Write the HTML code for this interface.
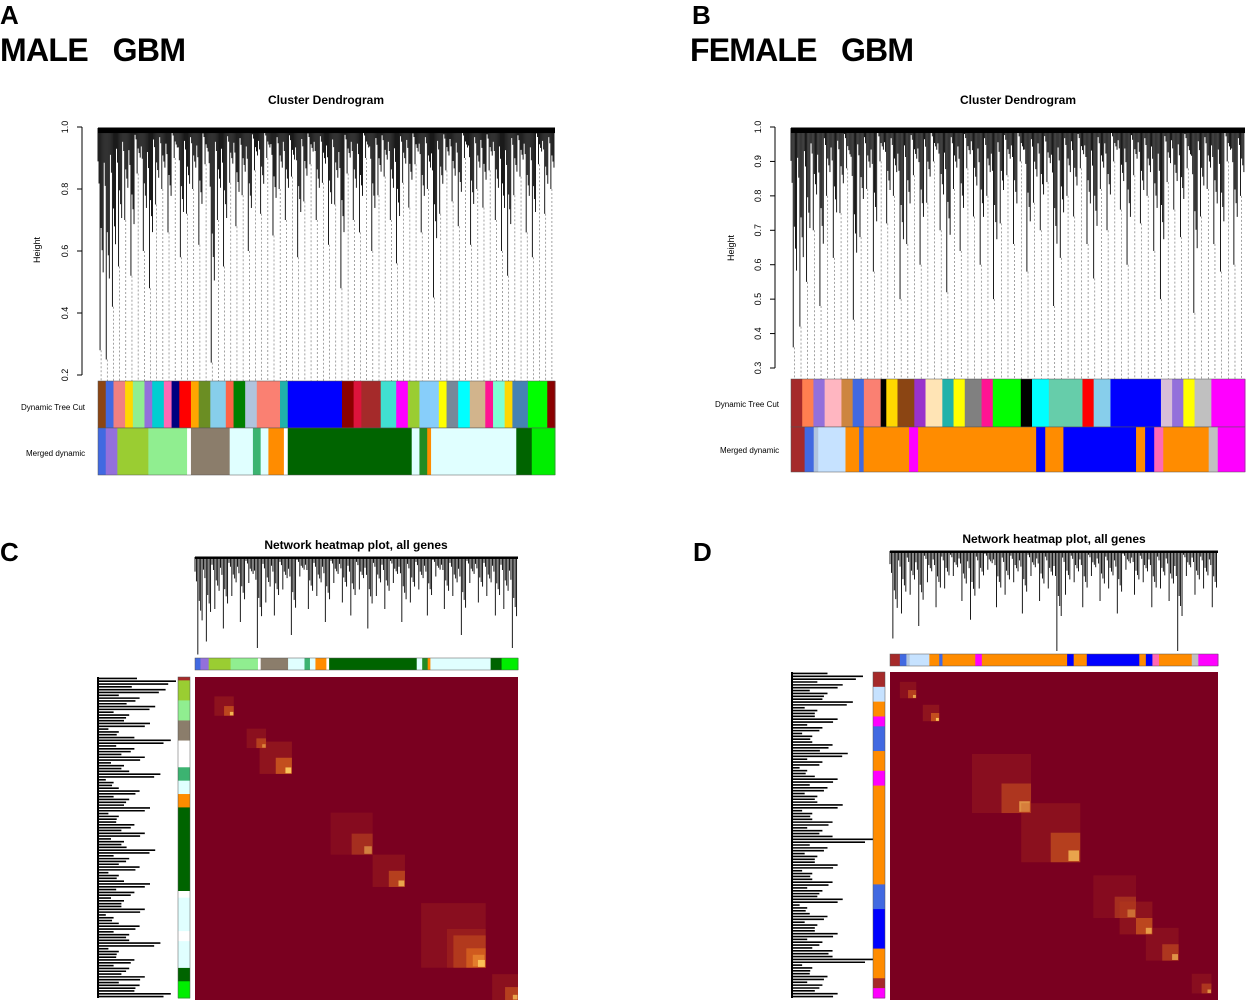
<!DOCTYPE html>
<html><head><meta charset="utf-8"><style>
body{margin:0;background:#fff;width:1246px;height:1007px;overflow:hidden;font-family:"Liberation Sans",sans-serif}
svg{position:absolute;left:0;top:0}
</style></head><body>
<svg id="s" width="1246" height="1007" xmlns="http://www.w3.org/2000/svg">
<g font-family="Liberation Sans, sans-serif" font-weight="bold">
<text x="0" y="24" font-size="26">A</text>
<text x="0" y="61" font-size="32" textLength="186">MALE&#160;&#160;&#160;GBM</text>
<text x="692" y="24" font-size="26">B</text>
<text x="690" y="61" font-size="32" textLength="224">FEMALE&#160;&#160;&#160;GBM</text>
<text x="0" y="561" font-size="26">C</text>
<text x="693" y="561" font-size="26">D</text>
<text x="326" y="104" font-size="12" text-anchor="middle">Cluster Dendrogram</text>
<text x="1018" y="104" font-size="12" text-anchor="middle">Cluster Dendrogram</text>
<text x="356" y="549" font-size="12" text-anchor="middle">Network heatmap plot, all genes</text>
<text x="1054" y="543" font-size="12" text-anchor="middle">Network heatmap plot, all genes</text>
</g>
<g font-size="9" fill="#000">
<text x="21" y="410" font-size="8">Dynamic Tree Cut</text>
<text x="26" y="456" font-size="8">Merged dynamic</text>
<text x="715" y="407" font-size="8">Dynamic Tree Cut</text>
<text x="720" y="453" font-size="8">Merged dynamic</text>
<text transform="translate(40,250) rotate(-90)" text-anchor="middle">Height</text>
<text transform="translate(734,248) rotate(-90)" text-anchor="middle">Height</text>
</g>
<g id="g"></g>
</svg>
<script>
const aLeaves=[0.28,0.25,0.42,0.55,0.7,0.52,0.85,0.6,0.48,0.75,0.8,0.66,0.9,0.58,0.72,0.8,0.62,0.88,0.24,0.7,0.55,0.82,0.68,0.78,0.6,0.86,0.72,0.9,0.65,0.8,0.7,0.84,0.58,0.76,0.88,0.7,0.82,0.62,0.75,0.48,0.85,0.7,0.66,0.9,0.6,0.78,0.84,0.7,0.56,0.82,0.74,0.88,0.66,0.8,0.45,0.72,0.86,0.76,0.68,0.9,0.62,0.8,0.74,0.86,0.7,0.6,0.52,0.78,0.84,0.66,0.58,0.88,0.72,0.8];
const bLeaves=[0.36,0.42,0.55,0.7,0.48,0.8,0.62,0.75,0.88,0.44,0.68,0.82,0.58,0.9,0.72,0.8,0.5,0.66,0.86,0.6,0.78,0.9,0.7,0.52,0.82,0.64,0.88,0.74,0.6,0.8,0.5,0.72,0.86,0.66,0.9,0.58,0.78,0.7,0.84,0.48,0.62,0.8,0.74,0.88,0.66,0.56,0.82,0.7,0.9,0.76,0.6,0.86,0.72,0.8,0.64,0.5,0.84,0.76,0.68,0.88,0.46,0.74,0.82,0.66,0.58,0.9,0.6,0.8];
const cLeaves=[0.25,0.35,0.6,0.45,0.7,0.5,0.8,0.3,0.65,0.55,0.75,0.4,0.85,0.6,0.7,0.5,0.8,0.65,0.55,0.75,0.45,0.7,0.6,0.8,0.5,0.65,0.75,0.55,0.85,0.6,0.7,0.4,0.8,0.65,0.7,0.55,0.6,0.3];
const dLeaves=[0.3,0.5,0.65,0.4,0.75,0.55,0.7,0.8,0.6,0.45,0.7,0.85,0.55,0.65,0.75,0.5,0.8,0.6,0.7,0.2,0.65,0.75,0.55,0.8,0.6,0.7,0.5,0.85,0.65,0.75,0.55,0.7,0.6,0.2,0.8,0.65,0.7,0.55];
const aDyn=[["#8b4513",2],["#4169e1",2],["#f08080",3],["#ffd700",2],["#90ee90",3],["#9370db",2],["#00ced1",3],["#ff69b4",2],["#000080",2],["#ff0000",3],["#ffa500",2],["#6b8e23",3],["#87ceeb",4],["#ff6347",2],["#008000",3],["#b0c4de",3],["#fa8072",6],["#20b2aa",2],["#0000ff",14],["#8b0000",3],["#dc143c",2],["#a52a2a",5],["#40e0d0",4],["#ff00ff",3],["#9acd32",3],["#87cefa",5],["#ffff00",2],["#778899",3],["#00ffff",3],["#d2b48c",4],["#ff1493",2],["#7fffd4",3],["#ffd700",2],["#4682b4",4],["#00ff00",5],["#8b0000",2]];
const aMer=[["#4169e1",2],["#9370db",3],["#9acd32",8],["#90ee90",10],["#ffffff",1],["#8b7d6b",10],["#e0ffff",6],["#3cb371",2],["#e0ffff",2],["#ff8c00",4],["#ffffff",1],["#006400",32],["#e0ffff",2],["#228b22",2],["#ff8c00",1],["#e0ffff",22],["#006400",4],["#00ee00",6]];
const bDyn=[["#a52a2a",2],["#ff7f50",2],["#9370db",2],["#ffb6c1",3],["#cd853f",2],["#4169e1",2],["#fa8072",3],["#000000",1],["#ffd700",2],["#8b4513",3],["#9932cc",2],["#ffe4b5",3],["#20b2aa",2],["#ffff00",2],["#808080",3],["#ff1493",2],["#00ff00",5],["#000000",2],["#00ffff",3],["#66cdaa",6],["#ff0000",2],["#87ceeb",3],["#0000ff",9],["#d8bfd8",2],["#9370db",2],["#ffff00",2],["#c0c0c0",3],["#ff00ff",6]];
const bMer=[["#a52a2a",3],["#4169e1",2],["#b0c4de",1],["#c6e2ff",6],["#ff8c00",3],["#4169e1",1],["#ff8c00",10],["#ff00ff",2],["#ff8c00",26],["#0000ff",2],["#ff8c00",4],["#0000ff",16],["#ff8c00",2],["#0000ff",2],["#ff69b4",2],["#ff8c00",10],["#c0c0c0",2],["#ff00ff",6]];
const cSide=[["#a52a2a",1],["#9acd32",6],["#90ee90",6],["#8b7d6b",6],["#ffffff",8],["#3cb371",4],["#e0ffff",4],["#ff8c00",4],["#006400",25],["#ffffff",2],["#e0ffff",10],["#ffffff",3],["#e0ffff",8],["#006400",4],["#00ee00",5]];
const dSide=[["#a52a2a",3],["#c6e2ff",3],["#ff8c00",3],["#ff00ff",2],["#4169e1",5],["#ff8c00",4],["#ff00ff",3],["#ff8c00",20],["#4169e1",5],["#0000ff",8],["#ff8c00",6],["#a52a2a",2],["#ff00ff",2]];
const cBlocks=[[0.06,0.12,0.8],[0.16,0.22,0.7],[0.2,0.3,0.9],[0.42,0.55,0.5],[0.55,0.65,0.7],[0.7,0.9,0.6],[0.78,0.9,0.8],[0.92,1.0,0.7]];
const dBlocks=[[0.03,0.08,0.7],[0.1,0.15,0.9],[0.25,0.43,0.6],[0.4,0.58,0.7],[0.62,0.75,0.5],[0.7,0.8,0.8],[0.78,0.88,0.6],[0.92,0.98,0.6]];

const NS="http://www.w3.org/2000/svg",G=document.getElementById('g');
function el(t,a,name){const e=document.createElementNS(NS,t);for(const k in a)e.setAttribute(k,a[k]);


G.appendChild(e);return e;}
function yAxis(x,y0,y1,v0,v1,ticks,pre){const sc=v=>y0+(v-v0)/(v1-v0)*(y1-y0);
el('line',{x1:x,x2:x,y1:sc(ticks[0]),y2:sc(ticks[ticks.length-1]),stroke:'#000'},pre+'-y-axis');
ticks.forEach(t=>{el('line',{x1:x-5,x2:x,y1:sc(t),y2:sc(t),stroke:'#000'},pre+'-y-tick');
const tx=el('text',{transform:`translate(${x-14},${sc(t)}) rotate(-90)`,'text-anchor':'middle','font-size':9},pre+'-y-tick-label');tx.textContent=t.toFixed(1);});return sc;}
function dendro(leaves,x0,x1,yTop,sc,yBot,pre,dotted){const n=leaves.length,w=(x1-x0)/n;
el('line',{x1:x0,x2:x1,y1:yTop,y2:yTop,stroke:'#000'},pre+'-root');
leaves.forEach((v,i)=>{const x=x0+w*(i+0.5),y=sc(v);
if(dotted)el('line',{x1:x,x2:x,y1:y,y2:yBot,stroke:'#666','stroke-dasharray':'2,2','stroke-width':0.6},pre+'-leaf-guide');
for(let k=0;k<6;k++){const xx=x0+w*i+w*k/6,yy=yTop+(y-yTop)*(k==2?1:0.15+0.1*k);
el('line',{x1:xx,x2:xx,y1:yTop,y2:yy,stroke:'#000','stroke-width':0.9},pre+'-branch');}});
el('rect',{x:x0,y:yTop,width:x1-x0,height:(yBot-yTop)*0.02,fill:'#000'},pre+'-dense-top');}
function bar(segs,x,y,w,h,vert,pre){const tot=segs.reduce((a,s)=>a+s[1],0);let p=0;
segs.forEach(s=>{const f=s[1]/tot;
if(vert)el('rect',{x,y:y+p*h,width:w,height:f*h+0.5,fill:s[0]},pre+'-segment');
else el('rect',{x:x+p*w,y,width:f*w+0.5,height:h,fill:s[0]},pre+'-segment');p+=f;});
el('rect',{x,y,width:w,height:h,fill:'none',stroke:'#555','stroke-width':0.5},pre+'-frame');}
function heat(blocks,x,y,s,pre){el('rect',{x,y,width:s,height:s,fill:'#7a0020'},pre+'-bg');
blocks.forEach(b=>{const a=x+b[0]*s,L=(b[1]-b[0])*s;
el('rect',{x:a,y:y+b[0]*s,width:L,height:L,fill:'#c0401a',opacity:0.35*b[2]},pre+'-block');
el('rect',{x:a+L*0.5,y:y+b[0]*s+L*0.5,width:L*0.5,height:L*0.5,fill:'#f08020',opacity:0.6*b[2]},pre+'-block-core');
el('rect',{x:a+L*0.8,y:y+b[0]*s+L*0.8,width:L*0.18,height:L*0.18,fill:'#ffd060',opacity:b[2]},pre+'-block-peak');});}
function leftDendro(leaves,x,y,h,len,pre){const n=leaves.length*3;
leaves.forEach((v,i)=>{for(let k=0;k<3;k++){const yy=y+h*(i*3+k+0.5)/n,f=k==1?(1-v):(1-v)*(0.5+0.2*k);
el('line',{x1:x,x2:x+len*f*1.3,y1:yy,y2:yy,stroke:'#000','stroke-width':1.6},pre+'-branch');}});
el('line',{x1:x,x2:x,y1:y,y2:y+h,stroke:'#000','stroke-width':2},pre+'-root');}
let sa=yAxis(82,375,127,0.2,1.0,[0.2,0.4,0.6,0.8,1.0],'a');
dendro(aLeaves,98,555,128,sa,381,'a-dendro',true);
bar(aDyn,98,381,457,47,false,'a-dynamic');bar(aMer,98,428,457,47,false,'a-merged');
let sb=yAxis(775,368,127,0.3,1.0,[0.3,0.4,0.5,0.6,0.7,0.8,0.9,1.0],'b');
dendro(bLeaves,791,1245,128,sb,379,'b-dendro',true);
bar(bDyn,791,379,454,48,false,'b-dynamic');bar(bMer,791,427,454,45,false,'b-merged');
dendro(cLeaves,195,518,557,v=>557+(1-v)*130,655,'c-top',false);
bar(aMer,195,658,323,12,false,'c-top-colors');
heat(cBlocks,195,677,323,'c-heatmap');
leftDendro(cLeaves,98,677,321,80,'c-left');
bar(cSide,178,677,12,321,true,'c-side-colors');
dendro(dLeaves,890,1218,551,v=>551+(1-v)*125,650,'d-top',false);
bar(bMer,890,654,328,12,false,'d-top-colors');
heat(dBlocks,890,672,328,'d-heatmap');
leftDendro(dLeaves,792,672,326,78,'d-left');
bar(dSide,873,672,12,326,true,'d-side-colors');
</script>
</body></html>
